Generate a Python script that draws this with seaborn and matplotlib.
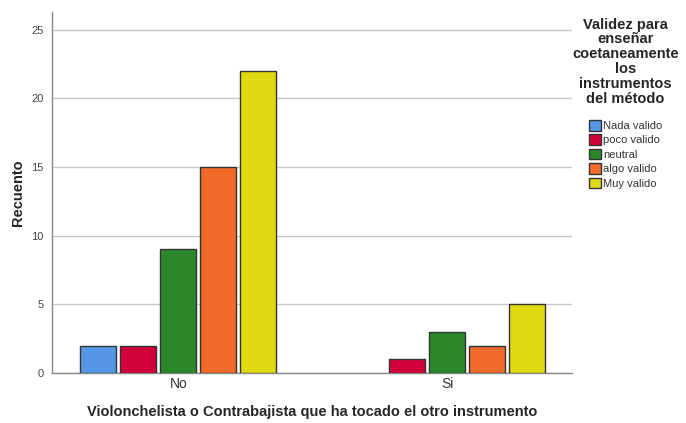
import numpy as np
import pandas as pd
import seaborn as sns
import matplotlib.pyplot as plt

# Data
groups = ["No", "Si"]
levels = ["Nada valido", "poco valido", "neutral", "algo valido", "Muy valido"]
counts_no = [2, 2, 9, 15, 22]
counts_si = [np.nan, 1, 3, 2, 5]
colors = ["#5597E4", "#D2003A", "#2A882A", "#F26B2B", "#E0D90F"]

df = pd.DataFrame({
    "grupo": ["No"] * 5 + ["Si"] * 5,
    "nivel": levels * 2,
    "recuento": counts_no + counts_si,
}).dropna()

sns.set_style("white")
plt.rcParams["font.family"] = ["Liberation Sans", "DejaVu Sans"]

fig = plt.figure(figsize=(6.86, 4.23), dpi=100)
ax = fig.add_axes([52 / 686, 50 / 423, 520 / 686, 361 / 423])

sns.barplot(data=df, x="grupo", y="recuento", hue="nivel", order=groups,
            hue_order=levels, palette=colors, width=0.745, gap=0.1,
            edgecolor="#333333", linewidth=1.0, saturation=1, ax=ax, zorder=3)

ax.set_xlim(-0.47, 1.465)
ax.set_ylim(0, 26.3)
ax.set_yticks([0, 5, 10, 15, 20, 25])
ax.yaxis.grid(True, color="#c8c8c8", linewidth=1, zorder=0)
ax.set_axisbelow(True)
ax.tick_params(axis="y", length=0, labelsize=8, labelcolor="#444444", pad=6)
ax.tick_params(axis="x", length=0, labelsize=10, labelcolor="#333333", pad=3)
for s in ["top", "right"]:
    ax.spines[s].set_visible(False)
for s in ["left", "bottom"]:
    ax.spines[s].set_color("#888888")
    ax.spines[s].set_linewidth(1)

ax.set_xlabel("Violonchelista o Contrabajista que ha tocado el otro instrumento",
              fontsize=10.5, fontweight="bold")
ax.set_ylabel("Recuento", fontsize=10.5, fontweight="bold")
ax.xaxis.set_label_coords(0.5, -0.088)
ax.yaxis.set_label_coords(-0.052, 0.5)

leg = ax.legend(title="Validez para\nenseñar\ncoetaneamente\nlos\ninstrumentos\ndel método",
                loc="upper left", bbox_to_anchor=(0.99, 1.0), frameon=False,
                fontsize=8, title_fontproperties={"weight": "bold", "size": 10.5},
                handlelength=1.1, handleheight=1.1, handletextpad=0.2,
                labelspacing=0.3, borderaxespad=0.1)
leg._legend_box.align = "center"
leg._legend_box.sep = 10
leg.get_title().set_multialignment("center")
leg.get_title().set_linespacing(1.08)
for t in leg.get_texts():
    t.set_color("#333333")

fig.savefig("out.png", dpi=100)
